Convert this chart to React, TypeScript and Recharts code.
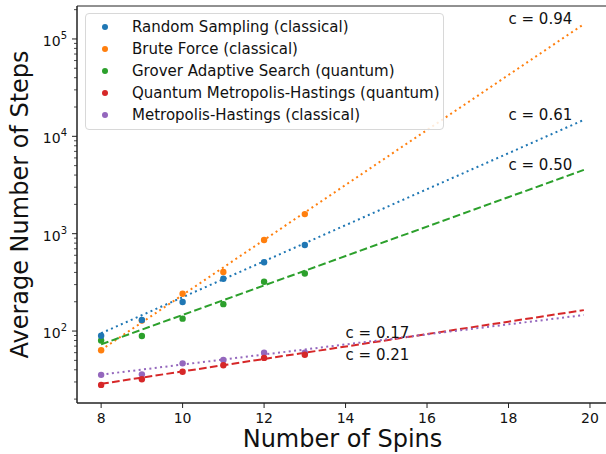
import {
  ComposedChart,
  XAxis,
  YAxis,
  Line,
  Scatter,
  ReferenceArea,
  ReferenceDot,
  Legend,
} from "recharts";

const spins = [8, 9, 10, 11, 12, 13];
const randomSampling = [89.5, 130, 199, 345, 508, 766];
const bruteForce = [63.4, 128, 242, 404, 861, 1590];
const grover = [80, 89, 134, 189, 321, 390];
const quantumMH = [28, 32, 38.2, 44.5, 53, 57];
const classicalMH = [35.5, 35.9, 46.6, 50.4, 59.8, 59.8];

// fitted curves, read at both ends
const fitSpins = [8, 19.85];
const fitRandom = [95, 14750];
const fitBrute = [64, 142000];
const fitGrover = [73, 4520];
const fitQuantumMH = [28.7, 164];
const fitClassicalMH = [35.7, 146];

const cLabels = ["c = 0.61", "c = 0.94", "c = 0.50", "c = 0.21", "c = 0.17"];
const cLabelSpins = [18, 18, 18, 14, 14];
const cLabelSteps = [14750, 142000, 4520, 51, 85];

const xTicks = [8, 10, 12, 14, 16, 18, 20];
const yMajor = [100, 1000, 10000, 100000];
const yMinor = [10, 100, 1000, 10000, 100000]
  .flatMap((d) => [2, 3, 4, 5, 6, 7, 8, 9].map((m) => m * d))
  .filter((v) => v > 18.24 && v < 218000);
const yTicks = [...yMajor, ...yMinor].sort((a, b) => a - b);

const xDomain = [7.4075, 20.4425];
const yDomain = [18.24, 218000];

const DOTTED = "2 3.4";
const DASHED = "7.7 3.3";

const series = [
  { name: "Random Sampling (classical)", color: "#1f77b4", pts: randomSampling, fit: fitRandom, dash: DOTTED },
  { name: "Brute Force (classical)", color: "#ff7f0e", pts: bruteForce, fit: fitBrute, dash: DOTTED },
  { name: "Grover Adaptive Search (quantum)", color: "#2ca02c", pts: grover, fit: fitGrover, dash: DASHED },
  { name: "Quantum Metropolis-Hastings (quantum)", color: "#d62728", pts: quantumMH, fit: fitQuantumMH, dash: DASHED },
  { name: "Metropolis-Hastings (classical)", color: "#9467bd", pts: classicalMH, fit: fitClassicalMH, dash: DOTTED },
];

const toRows = (xs: number[], ys: number[]) => xs.map((n, i) => ({ n, v: ys[i] }));

const FONT = "'DejaVu Sans', sans-serif";
const AXIS = "#222";

const XTick = (props: any) => {
  const { x, y, payload } = props;
  return (
    <g>
      <line x1={x} x2={x} y1={y} y2={y + 5} stroke={AXIS} strokeWidth={1} />
      <text x={x} y={y + 20} textAnchor="middle" fontSize={14} fill="#111" fontFamily={FONT}>
        {payload.value}
      </text>
    </g>
  );
};

const YTick = (props: any) => {
  const { x, y, payload } = props;
  const v = payload.value;
  const major = yMajor.includes(v);
  return (
    <g>
      <line x1={x} x2={x - (major ? 5 : 3)} y1={y} y2={y} stroke={AXIS} strokeWidth={major ? 1 : 0.8} />
      {major && (
        <text x={x - 10} y={y + 7} textAnchor="end" fontSize={14} fill="#111" fontFamily={FONT}>
          10
          <tspan dy={-7} fontSize={10}>
            {Math.round(Math.log10(v))}
          </tspan>
        </text>
      )}
    </g>
  );
};

const YLabel = (props: any) => {
  const vb = props.viewBox || { x: 0, y: 6, width: 77, height: 397 };
  const cx = vb.x + 28;
  const cy = vb.y + vb.height / 2;
  return (
    <text
      x={cx}
      y={cy}
      transform={`rotate(-90 ${cx} ${cy})`}
      textAnchor="middle"
      fontSize={24}
      fill="#111"
      fontFamily={FONT}
    >
      Average Number of Steps
    </text>
  );
};

const LegendBox = () => (
  <div
    style={{
      border: "1px solid #d8d8d8",
      borderRadius: 4,
      background: "rgba(255,255,255,0.85)",
      padding: "2px 0 3px 0",
      fontFamily: FONT,
      fontSize: 15,
      color: "#111",
    }}
  >
    {series.map((s) => (
      <div key={s.name} style={{ display: "flex", alignItems: "center", height: 22, whiteSpace: "nowrap" }}>
        <svg width={46} height={22} style={{ flex: "none" }}>
          <circle cx={19} cy={11} r={3} fill={s.color} />
        </svg>
        <span>{s.name}</span>
      </div>
    ))}
  </div>
);

export default function App() {
  // draw scatter layers last-to-first so the first series sits on top
  const drawOrder = series.slice().reverse();
  return (
    <div
      style={{
        position: "fixed",
        left: 0,
        top: 0,
        width: 606,
        height: 454,
        overflow: "hidden",
        background: "#fff",
        fontFamily: FONT,
      }}
    >
      <ComposedChart width={620} height={454} margin={{ top: 6, right: 12, bottom: 0, left: 0 }}>
        <XAxis
          dataKey="n"
          type="number"
          domain={xDomain}
          allowDataOverflow
          ticks={xTicks}
          interval={0}
          height={51}
          tickLine={false}
          tickSize={0}
          tickMargin={0}
          tick={<XTick />}
          axisLine={{ stroke: AXIS, strokeWidth: 1 }}
          label={{ value: "Number of Spins", position: "insideBottom", offset: 7, fontSize: 24, fill: "#111", fontFamily: FONT }}
        />
        <YAxis
          type="number"
          scale="log"
          domain={yDomain}
          allowDataOverflow
          ticks={yTicks}
          interval={0}
          width={77}
          tickLine={false}
          tickSize={0}
          tickMargin={0}
          tick={<YTick />}
          axisLine={{ stroke: AXIS, strokeWidth: 1 }}
          label={{ content: <YLabel /> }}
        />
        <ReferenceArea
          x1={xDomain[0]}
          x2={xDomain[1]}
          y1={yDomain[0]}
          y2={yDomain[1]}
          ifOverflow="visible"
          fill="none"
          stroke={AXIS}
          strokeWidth={1}
        />
        {drawOrder.map((s) => (
          <Scatter
            key={"pts-" + s.name}
            name={s.name}
            data={toRows(spins, s.pts)}
            dataKey="v"
            fill={s.color}
            isAnimationActive={false}
            shape={(p: any) => <circle cx={p.cx} cy={p.cy} r={3.2} fill={s.color} />}
          />
        ))}
        {series.map((s) => (
          <Line
            key={"fit-" + s.name}
            data={toRows(fitSpins, s.fit)}
            dataKey="v"
            stroke={s.color}
            strokeWidth={2}
            strokeDasharray={s.dash}
            dot={false}
            activeDot={false}
            legendType="none"
            isAnimationActive={false}
          />
        ))}
        {cLabels.map((t, i) => (
          <ReferenceDot
            key={t}
            x={cLabelSpins[i]}
            y={cLabelSteps[i]}
            r={0}
            fill="none"
            stroke="none"
            ifOverflow="visible"
            label={{
              content: (p: any) => (
                <text x={p.viewBox.x} y={p.viewBox.y} fontSize={15} fill="#111" fontFamily={FONT}>
                  {t}
                </text>
              ),
            }}
          />
        ))}
        <Legend
          layout="vertical"
          align="center"
          verticalAlign="middle"
          wrapperStyle={{ left: 85, top: 13, width: 359 }}
          content={<LegendBox />}
        />
      </ComposedChart>
    </div>
  );
}
